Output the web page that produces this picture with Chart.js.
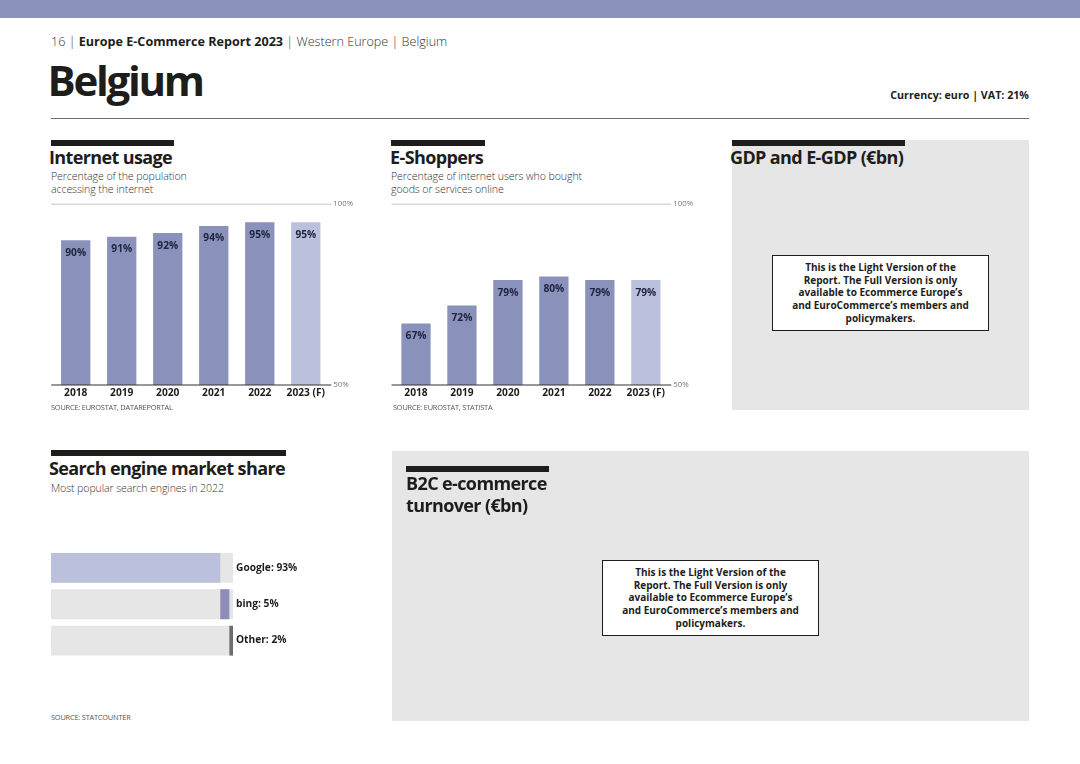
<!DOCTYPE html>
<html>
<head>
<meta charset="utf-8">
<title>Belgium</title>
<script src="https://cdn.jsdelivr.net/npm/chart.js@4"></script>
<style>
  html, body { margin: 0; padding: 0; background: #fff; }
  body { width: 1080px; height: 764px; position: relative; overflow: hidden; font-family: "Open Sans", sans-serif; color: #1d1d1b; }
  .abs { position: absolute; white-space: nowrap; }
  .block { position: absolute; background: #1d1d1b; height: 6px; }
  .panel { position: absolute; background: #e6e6e7; }
  .h2 { font-size: 18px; font-weight: 700; letter-spacing: -0.62px; line-height: 22px; }
  .sub { font-size: 10.6px; font-weight: 300; color: #333; line-height: 12.5px; letter-spacing: -0.1px; }
  .src { font-size: 7.4px; color: #555; letter-spacing: -0.2px; line-height: 10px; }
  .note { position: absolute; box-sizing: border-box; width: 217px; height: 76px; background: #fff; border: 1.5px solid #1d1d1b;
          font-size: 10px; font-weight: 700; text-align: center; line-height: 12.7px; padding-top: 5px; }
  canvas { position: absolute; }
</style>
</head>
<body>
<div class="abs" style="left:0;top:0;width:1080px;height:18px;background:#8a92bb"></div>
<div class="abs" style="left:51px;top:33px;font-size:12.6px;line-height:18px;font-weight:300;color:#333">16 | <b style="font-weight:700;color:#1d1d1b">Europe E-Commerce Report 2023</b> | Western Europe | Belgium</div>
<div class="abs" style="left:47.5px;top:52px;font-size:42px;line-height:56px;font-weight:700;letter-spacing:-2.3px">Belgium</div>
<div class="abs" style="right:51px;top:88px;font-size:10.7px;line-height:15px;font-weight:700">Currency: euro | VAT: 21%</div>
<div class="abs" style="left:51px;top:118px;width:978px;height:1px;background:#6e6e6e"></div>

<div class="block" style="left:51px;top:140px;width:123px"></div>
<div class="abs h2" style="left:49px;top:146px">Internet usage</div>
<div class="abs sub" style="left:51px;top:170px">Percentage of the population<br>accessing the internet</div>
<canvas id="usageChart" width="330" height="215" style="left:40px;top:195px"></canvas>
<div class="abs src" style="left:51px;top:402px">SOURCE: EUROSTAT, DATAREPORTAL</div>

<div class="block" style="left:391px;top:140px;width:94px"></div>
<div class="abs h2" style="left:390px;top:146px">E-Shoppers</div>
<div class="abs sub" style="left:391px;top:170px">Percentage of internet users who bought<br>goods or services online</div>
<canvas id="shoppersChart" width="330" height="215" style="left:380px;top:195px"></canvas>
<div class="abs src" style="left:393px;top:402px">SOURCE: EUROSTAT, STATISTA</div>

<div class="panel" style="left:732px;top:140px;width:297px;height:270px"></div>
<div class="block" style="left:732px;top:140px;width:173px"></div>
<div class="abs h2" style="left:730px;top:146px">GDP and E-GDP (€bn)</div>
<div class="note" style="left:772px;top:255px">This is the Light Version of the<br>Report. The Full Version is only<br>available to Ecommerce Europe’s<br>and EuroCommerce’s members and<br>policymakers.</div>

<div class="block" style="left:51px;top:450px;width:235px"></div>
<div class="abs h2" style="left:49px;top:457px">Search engine market share</div>
<div class="abs sub" style="left:51px;top:482px">Most popular search engines in 2022</div>
<canvas id="searchChart" width="290" height="130" style="left:40px;top:540px"></canvas>
<div class="abs src" style="left:51px;top:712px">SOURCE: STATCOUNTER</div>

<div class="panel" style="left:392px;top:451px;width:637px;height:270px"></div>
<div class="block" style="left:406px;top:466px;width:143px"></div>
<div class="abs h2" style="left:406px;top:472px">B2C e-commerce<br>turnover (€bn)</div>
<div class="note" style="left:602px;top:560px">This is the Light Version of the<br>Report. The Full Version is only<br>available to Ecommerce Europe’s<br>and EuroCommerce’s members and<br>policymakers.</div>

<script>
var years = ["2018", "2019", "2020", "2021", "2022", "2023 (F)"];
var usageValues = [90, 91, 92, 94, 95, 95];
var shopperValues = [67, 72, 79, 80, 79, 79];
var yTicks = [50, 100];
var engines = ["Google", "bing", "Other"];
var engineShares = [93, 5, 2];

var fontName = '"Open Sans", sans-serif';
var barColor = "#8a92bb";
var forecastColor = "#bbc1dd";
var engineColors = ["#bbc1dd", "#8f8db8", "#6c6d73"];
var trackColor = "#e6e6e7";

// value labels inside the bars and the two long lines of the column charts
var columnExtras = {
  id: "columnExtras",
  afterDatasetsDraw: function (chart) {
    var ctx = chart.ctx;
    var y = chart.scales.y;
    var area = chart.chartArea;
    ctx.save();
    ctx.lineWidth = 1;
    ctx.strokeStyle = "#c4c4c4";
    ctx.beginPath();
    ctx.moveTo(area.left - 1.5, y.getPixelForValue(100));
    ctx.lineTo(area.right + 2.5, y.getPixelForValue(100));
    ctx.stroke();
    ctx.strokeStyle = "#333";
    ctx.beginPath();
    ctx.moveTo(area.left - 1.5, y.getPixelForValue(50));
    ctx.lineTo(area.right + 2.5, y.getPixelForValue(50));
    ctx.stroke();

    ctx.font = "700 10.2px " + fontName;
    ctx.fillStyle = "#20243f";
    ctx.textAlign = "center";
    ctx.textBaseline = "middle";
    chart.getDatasetMeta(0).data.forEach(function (bar, i) {
      ctx.fillText(chart.data.datasets[0].data[i] + "%", bar.x, bar.y + 12.5);
    });
    ctx.restore();
  }
};

function columnChart(id, values, leftPad) {
  var ctx = document.getElementById(id).getContext("2d");
  return new Chart(ctx, {
    type: "bar",
    data: {
      labels: years,
      datasets: [{
        data: values,
        backgroundColor: years.map(function (y, i) { return i == years.length - 1 ? forecastColor : barColor; }),
        barPercentage: 0.637,
        categoryPercentage: 1
      }]
    },
    options: {
      responsive: false,
      animation: false,
      layout: { padding: { left: leftPad, top: 9, right: 0, bottom: 0 } },
      plugins: { legend: { display: false }, tooltip: { enabled: false } },
      scales: {
        x: {
          grid: { display: false, drawTicks: false },
          border: { display: false },
          ticks: { color: "#1d1d1b", padding: 2, maxRotation: 0, autoSkip: false, font: { family: fontName, size: 10.2, weight: "700" } },
          afterFit: function (scale) { scale.height = 25; }
        },
        y: {
          position: "right",
          min: 50,
          max: 100,
          afterBuildTicks: function (scale) { scale.ticks = yTicks.map(function (v) { return { value: v }; }); },
          grid: { display: false, drawTicks: false },
          border: { display: false },
          ticks: {
            color: "#777",
            padding: 4.5,
            font: { family: fontName, size: 7.8 },
            callback: function (v) { return v + "%"; }
          },
          afterFit: function (scale) { scale.width = 41.2; }
        }
      }
    },
    plugins: [columnExtras]
  });
}

columnChart("usageChart", usageValues, 12.7);
columnChart("shoppersChart", shopperValues, 13);

// segments sit end to end on the grey track
var running = 0;
var engineRanges = engineShares.map(function (v) {
  var range = [running, running + v];
  running += v;
  return range;
});

new Chart(document.getElementById("searchChart").getContext("2d"), {
  type: "bar",
  data: {
    labels: engines,
    datasets: [
      {
        data: engineRanges,
        backgroundColor: engineColors,
        grouped: false,
        order: 1,
        barPercentage: 0.82,
        categoryPercentage: 1
      },
      {
        data: engines.map(function () { return [0, 100]; }),
        backgroundColor: trackColor,
        grouped: false,
        order: 2,
        barPercentage: 0.82,
        categoryPercentage: 1
      }
    ]
  },
  options: {
    indexAxis: "y",
    responsive: false,
    animation: false,
    layout: { padding: { left: 11, top: 9.75, right: 0, bottom: 0 } },
    plugins: { legend: { display: false }, tooltip: { enabled: false } },
    scales: {
      x: {
        min: 0,
        max: 100,
        display: true,
        grid: { display: false, drawTicks: false },
        border: { display: false },
        ticks: { display: false },
        afterFit: function (scale) { scale.height = 11.25; }
      },
      y: {
        position: "right",
        grid: { display: false, drawTicks: false },
        border: { display: false },
        ticks: {
          color: "#1d1d1b",
          padding: 3,
          font: { family: fontName, size: 10.2, weight: "700" },
          callback: function (v, i) { return engines[i] + ": " + engineShares[i] + "%"; }
        },
        afterFit: function (scale) { scale.width = 97; }
      }
    }
  }
});
</script>
</body>
</html>
